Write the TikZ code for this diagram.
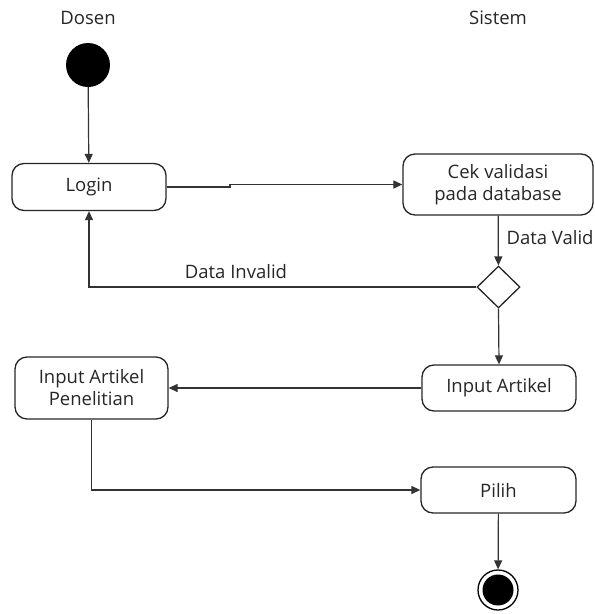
\documentclass[tikz,border=0pt]{standalone}
\usepackage{fontspec}
\setmainfont{Open Sans}
\usetikzlibrary{shapes.geometric,arrows.meta}
\begin{document}
\begin{tikzpicture}[x=1pt,y=-1pt,
  every node/.style={font=\fontsize{18.5}{22}\selectfont, text=black!85},
  action/.style={draw=black!85, line width=1.3pt, rounded corners=12pt, align=center, inner sep=0pt},
  flow/.style={line width=1.2pt, draw=black!80, -{Triangle[length=9pt,width=8pt]}}]
\useasboundingbox (0,0) rectangle (595,614);

% swimlane titles
\node (dosen) at (88,18) {Dosen};
\node (sistem) at (498,18) {Sistem};

% initial and final states
\node[circle, fill=black, minimum size=44pt, inner sep=0pt] (start) at (88,65) {};
\node[circle, draw, line width=1.3pt, minimum size=40pt, inner sep=0pt] (final) at (498,590) {};
\node[circle, fill=black, minimum size=31pt, inner sep=0pt] (finalin) at (498,590) {};

% actions
\node[action, minimum width=154pt, minimum height=47pt] (login) at (89,187) {Login};
\node[action, minimum width=190pt, minimum height=61pt] (cek) at (498,184.5) {Cek validasi\\pada database};
\node[draw=black!85, diamond, line width=1.3pt, minimum width=43pt, minimum height=42pt, inner sep=0pt] (dec) at (498.5,287) {};
\node[action, minimum width=154pt, minimum height=46pt] (inart) at (499,388) {Input Artikel};
\node[action, minimum width=153pt, minimum height=62pt] (iap) at (91.5,388) {Input Artikel\\Penelitian};
\node[action, minimum width=155pt, minimum height=46pt] (pilih) at (498.5,490) {Pilih};

% connectors
\draw[flow] (start) -- (login);
\coordinate (j1) at (230,187);
\coordinate (j2) at (230,184.5);
\draw[flow] (login.east) -- (j1) -- (j2) -- (cek.west);
\draw[flow] (cek) -- (dec);
\node[anchor=west] (lvalid) at (503,238) {Data Valid};
\draw[flow] (dec.west) -| (login.south);
\node (linvalid) at (236,272) {Data Invalid};
\draw[flow] (dec.south) -- (inart.north);
\draw[flow] (inart.west) -- (iap.east);
\draw[flow] (iap.south) |- (pilih.west);
\draw[flow] (pilih) -- (final);
\end{tikzpicture}
\end{document}
